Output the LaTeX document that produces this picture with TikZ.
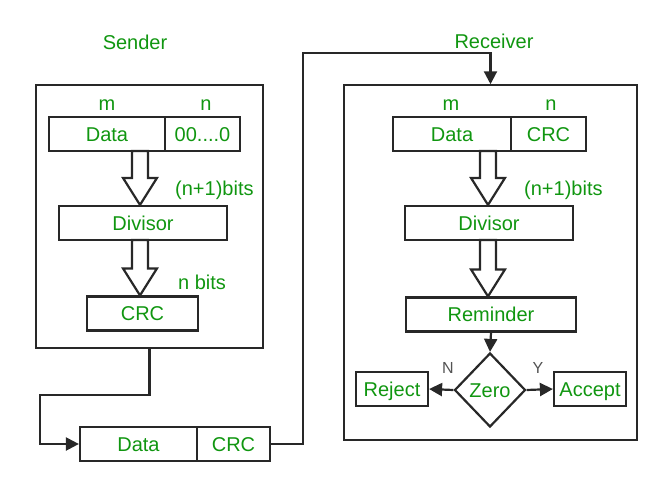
\documentclass[tikz,border=0pt]{standalone}
\usepackage{fontspec}
\setmainfont{Liberation Sans}
\usetikzlibrary{arrows.meta,shapes.geometric,calc}
\definecolor{txtgreen}{RGB}{16,150,16}
\definecolor{edge}{RGB}{40,40,40}
\tikzset{
  lbl/.style={text=txtgreen,font=\fontsize{20}{23}\selectfont,inner sep=0pt},
  box/.style={lbl,draw=edge,line width=2.2pt,minimum height=34pt,text height=15pt,text depth=1pt},
  outer/.style={draw=edge,line width=1.5pt,inner sep=0pt},
  conn/.style={draw=edge,line width=2.2pt},
  tip/.style={-{Triangle[length=13pt,width=13pt]}},
  hollow/.style={draw=edge,fill=white,line width=2.2pt,line join=miter},
  yn/.style={text=edge!80,font=\fontsize{16}{18}\selectfont,inner sep=0pt}
}
\newcommand{\hollowarr}[2]{%
  \draw[hollow] let \p1=(#1), \p2=(#2) in
    (\x2-8pt,\y1) -- (\x2+8pt,\y1) -- (\x2+8pt,\y2+27pt) -- (\x2+17pt,\y2+27pt)
    -- (\x2,\y2) -- (\x2-17pt,\y2+27pt) -- (\x2-8pt,\y2+27pt) -- cycle;}
\begin{document}
\begin{tikzpicture}[x=1pt,y=-1pt]
\useasboundingbox (0,0) rectangle (662,480);
% outer boxes
\node[outer,minimum width=227pt,minimum height=263pt] (sbox) at (149.5,216.5) {};
\node[outer,minimum width=293pt,minimum height=355pt] (rbox) at (490.5,262.5) {};
% titles
\node[lbl] (sender) at (135,42) {Sender};
\node[lbl] (receiver) at (494,41) {Receiver};
% sender
\node[lbl] (sm) at (107,105) {m};
\node[lbl] (sn) at (206,105) {n};
\node[box,minimum width=116pt] (sdata) at (107,134) {Data};
\node[box,minimum width=75pt] (szero) at (202.5,134) {00....0};
\node[box,minimum width=168pt] (sdiv) at (143,223) {Divisor};
\node[box,minimum width=111pt] (scrc) at (142.5,313.5) {CRC};
\node[lbl,anchor=west] (sbits1) at (175,190) {(n+1)bits};
\node[lbl,anchor=west] (sbits2) at (178,282) {n bits};
\coordinate (sa1) at (140,151);
\coordinate (sa2) at (140,240);
\hollowarr{sa1}{sa1 |- sdiv.north}
\hollowarr{sa2}{sa2 |- scrc.north}
% packet
\node[box,minimum width=117pt] (pdata) at (138.5,444) {Data};
\node[box,minimum width=73pt] (pcrc) at (233.5,444) {CRC};
% receiver
\node[lbl] (rm) at (451,105) {m};
\node[lbl] (rn) at (551,105) {n};
\node[box,minimum width=118pt] (rdata) at (452,134) {Data};
\node[box,minimum width=75pt] (rcrc) at (548.5,134) {CRC};
\node[box,minimum width=168pt] (rdiv) at (489,223) {Divisor};
\node[box,minimum width=170pt] (rrem) at (491,314.5) {Reminder};
\node[lbl,anchor=west] (rbits) at (524,190) {(n+1)bits};
\coordinate (ra1) at (488,151);
\coordinate (ra2) at (488,240);
\hollowarr{ra1}{ra1 |- rdiv.north}
\hollowarr{ra2}{ra2 |- rrem.north}
\node[lbl,draw=edge,line width=2.2pt,diamond,minimum width=71pt,minimum height=74pt,text height=15pt,text depth=1pt] (zero) at (490,390) {Zero};
\node[box,minimum width=72pt] (reject) at (392,389) {Reject};
\node[box,minimum width=72pt] (accept) at (590,389) {Accept};
\node[yn] (nl) at (448,368) {N};
\node[yn] (yl) at (538,368) {Y};
% connectors
\coordinate (c1) at (40,395);
\coordinate (c2) at (303,53);
\draw[conn,tip] (sbox.south) |- (c1) |- (pdata.west);
\draw[conn,tip] (pcrc.east) -| (c2) -| (rbox.north);
\draw[conn,tip] (rrem.south) -- (zero.north);
\draw[conn,tip] (zero.west) -- (reject.east);
\draw[conn,tip] (zero.east) -- (accept.west);
\end{tikzpicture}
\end{document}
